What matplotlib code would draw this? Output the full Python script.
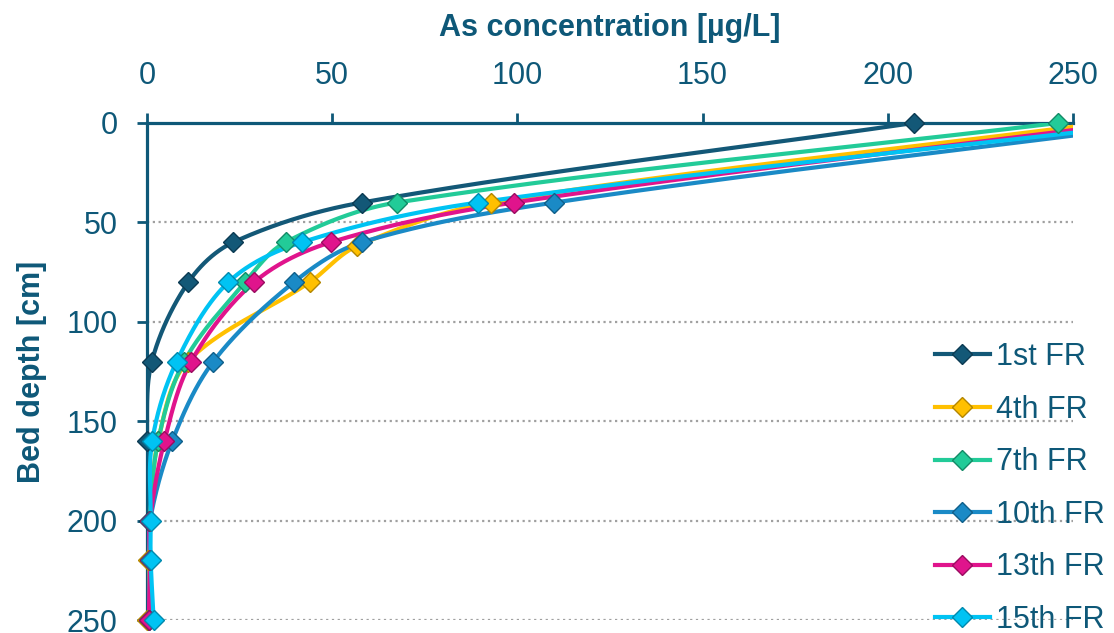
import numpy as np
import matplotlib
matplotlib.use("Agg")
import matplotlib.pyplot as plt

# ---- data ----
depth = [0, 40, 60, 80, 120, 160, 200, 220, 250]
depth_4th = [0, 40, 62, 80, 120, 160, 200, 220, 250]
fr1 = [207, 58, 23.3, 11.2, 1.3, 0.0, 0.5, 0.8, 0.3]
fr4 = [258, 93, 56.6, 44.0, 11.0, 3.0, 0.8, 0.2, 0.0]
fr7 = [246, 67.5, 37.4, 26.5, 10.0, 3.0, 0.8, 0.8, 0.5]
fr10 = [277, 110, 58.0, 39.7, 17.9, 6.8, 0.8, 0.8, 0.5]
fr13 = [265, 99, 49.6, 29.0, 11.9, 4.7, 0.8, 0.8, 0.5]
fr15 = [273, 89.4, 41.8, 22.0, 8.0, 1.4, 1.0, 1.0, 1.8]
labels = ["1st FR", "4th FR", "7th FR", "10th FR", "13th FR", "15th FR"]
x_ticks = [0, 50, 100, 150, 200, 250]
y_ticks = [0, 50, 100, 150, 200, 250]

series = [(fr1, depth), (fr4, depth_4th), (fr7, depth), (fr10, depth), (fr13, depth), (fr15, depth)]
colors = ["#135877", "#FFC000", "#22CB98", "#1A8AC6", "#E0148C", "#00C3F3"]
edges = ["#0B3A52", "#B38600", "#138A66", "#0F5F8A", "#9A0C60", "#0089AD"]
TXT = "#0E5878"

plt.rcParams["font.family"] = ["Liberation Sans", "DejaVu Sans"]

fig = plt.figure(figsize=(11.14, 6.33), dpi=100)
ax = fig.add_axes([147 / 1114, 1 - 620 / 633, (1073 - 147) / 1114, (620 - 123) / 633])
ax.set_xlim(0, 250)
ax.set_ylim(250, 0)


def smooth(ax, xs, ys, n=50):
    pts = ax.transData.transform(np.column_stack([xs, ys]))
    P = np.vstack([pts[0], pts, pts[-1]])
    out = []
    t = np.linspace(0, 1, n)[:, None]
    for i in range(1, len(P) - 2):
        p0, p1, p2, p3 = P[i - 1], P[i], P[i + 1], P[i + 2]
        d01 = np.linalg.norm(p1 - p0)
        d12 = np.linalg.norm(p2 - p1)
        d23 = np.linalg.norm(p3 - p2)
        w1 = d12 / (d01 + d12) if d01 + d12 > 0 else 0.5
        w2 = d12 / (d12 + d23) if d12 + d23 > 0 else 0.5
        c1 = p1 + (p2 - p0) * w1 / 3.0
        c2 = p2 - (p3 - p1) * w2 / 3.0
        seg = (1 - t) ** 3 * p1 + 3 * (1 - t) ** 2 * t * c1 + 3 * (1 - t) * t ** 2 * c2 + t ** 3 * p2
        out.append(seg if i == 1 else seg[1:])
    curve = np.vstack(out)
    data = ax.transData.inverted().transform(curve)
    return data[:, 0], data[:, 1]


handles = []
for (xs, ys), lab, c, ec in zip(series, labels, colors, edges):
    sx, sy = smooth(ax, xs, ys)
    ax.plot(sx, sy, color=c, lw=3, solid_capstyle="round", zorder=3)
    xs_a = np.array(xs, dtype=float)
    ys_a = np.array(ys, dtype=float)
    m = (xs_a <= 250) & (xs_a >= -5)
    ax.plot(xs_a[m], ys_a[m], ls="none", marker="D", ms=10, mfc=c, mec=ec, mew=1.0,
            clip_on=False, zorder=4)
    h, = ax.plot([], [], color=c, lw=3, marker="D", ms=10, mfc=c, mec=ec, mew=1.0)
    handles.append(h)

# axes styling
for s in ["bottom", "right"]:
    ax.spines[s].set_visible(False)
for s in ["top", "left"]:
    ax.spines[s].set_color(TXT)
    ax.spines[s].set_linewidth(2.3)
ax.xaxis.tick_top()
ax.xaxis.set_label_position("top")
ax.set_xticks(x_ticks)
ax.set_yticks(y_ticks)
ax.tick_params(axis="x", direction="out", length=7, width=2, color=TXT, labelcolor=TXT,
               labelsize=22, pad=16)
ax.tick_params(axis="y", direction="out", length=7, width=2, color=TXT, labelcolor=TXT,
               labelsize=22, pad=14)
ax.yaxis.grid(True, linestyle=(0, (1, 1.6)), color="#A0A0A0", lw=1.6, zorder=0)
ax.set_axisbelow(True)

ax.set_xlabel("As concentration [µg/L]", fontsize=22, fontweight="bold", color=TXT, labelpad=18)
ax.set_ylabel("Bed depth [cm]", fontsize=22, fontweight="bold", color=TXT, labelpad=14)

leg = fig.legend(handles, labels, loc="upper left", bbox_to_anchor=(935 / 1114, 1 - 342 / 633),
                 frameon=False, fontsize=22, handlelength=1.8, handletextpad=0.2,
                 labelspacing=0.74, borderpad=0, borderaxespad=0)
for t in leg.get_texts():
    t.set_color(TXT)

fig.savefig("out.png", dpi=100)
